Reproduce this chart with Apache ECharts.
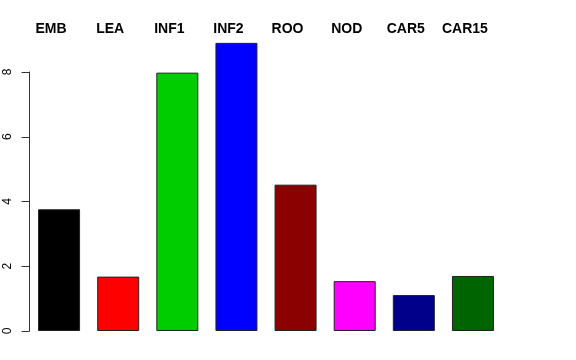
<!DOCTYPE html>
<html><head><meta charset="utf-8">
<script src="https://cdn.jsdelivr.net/npm/echarts@6/dist/echarts.min.js"></script>
<style>html,body{margin:0;padding:0;background:#fff}#c{width:576px;height:360px}</style>
</head><body><div id="c"></div>
<script>
const categories = ["EMB","LEA","INF1","INF2","ROO","NOD","CAR5","CAR15"];
const values = [3.76, 1.68, 7.98, 8.9, 4.52, 1.54, 1.11, 1.70];
const colors = ["#000000","#FF0000","#00CD00","#0000FF","#8B0000","#FF00FF","#00008B","#006400"];
const yTicks = [0,2,4,6,8];

const chart = echarts.init(document.getElementById('c'), null, {renderer:'canvas'});
chart.setOption({
  animation:false,
  backgroundColor:'#fff',
  grid:{left:29.5, top:72, width:473, bottom:29, containLabel:false},
  xAxis:[{
    type:'category', data:categories, position:'bottom',
    axisLine:{show:false}, axisTick:{show:false}, axisLabel:{show:false}
  },{
    type:'category', data:categories, position:'top',
    axisLine:{show:false}, axisTick:{show:false},
    axisLabel:{show:true, interval:0, margin:36, fontFamily:'Liberation Sans, Arial, sans-serif',
      fontWeight:'bold', fontSize:14, color:'#000', padding:[0,16,0,0]}
  }],
  yAxis:{
    type:'value', min:0, max:8, interval:2,
    splitLine:{show:false},
    axisLine:{show:true, lineStyle:{color:'#333', width:1}},
    axisTick:{show:true, length:8, lineStyle:{color:'#333'}},
    axisLabel:{rotate:90, margin:16, fontFamily:'Liberation Sans, Arial, sans-serif', fontSize:12, color:'#000',
      formatter:function(v){return yTicks.indexOf(v)>=0?String(v):'';}}
  },
  series:[{
    type:'bar', xAxisIndex:0, clip:false, barWidth:42,
    data: values.map((v,i)=>({value:v, itemStyle:{color:colors[i]}})),
    itemStyle:{borderColor:'#222', borderWidth:1}
  }]
});
</script></body></html>
